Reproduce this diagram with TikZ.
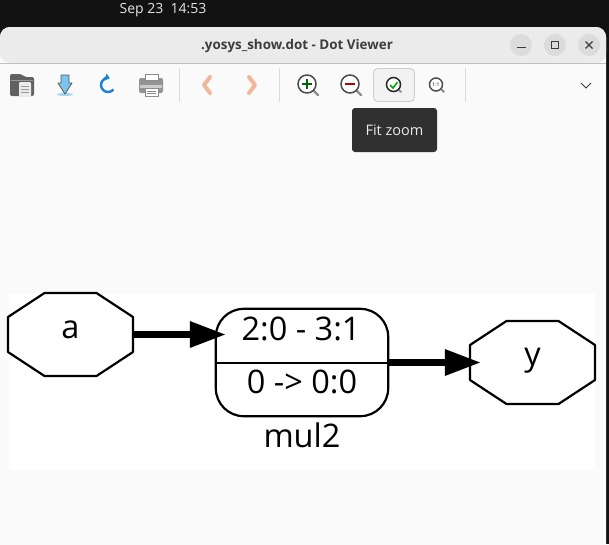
\documentclass[tikz,border=0pt]{standalone}
\usepackage{fontspec}
\setmainfont{Open Sans}
\usetikzlibrary{arrows.meta,positioning,calc}
\definecolor{topbar}{HTML}{121212}
\definecolor{titlebar}{HTML}{EBEBEB}
\definecolor{canvasbg}{HTML}{FAFAFA}
\definecolor{sepgray}{HTML}{DADADA}
\definecolor{titletext}{HTML}{3D3D3D}
\definecolor{winbtn}{HTML}{DCDCDC}
\definecolor{tipbg}{HTML}{303030}
\definecolor{iconblue}{HTML}{1C7FD6}
\definecolor{iconsky}{HTML}{7CC4F0}
\definecolor{iconpeach}{HTML}{F2B79A}
\definecolor{icongray}{HTML}{6A6A6A}
\tikzset{
  port/.style={minimum width=125pt, minimum height=83pt, inner sep=0pt},
  cellbox/.style={minimum width=172pt, minimum height=107pt, inner sep=0pt},
  celltxt/.style={inner sep=0pt, font=\fontsize{32.5}{38}\selectfont},
  outl/.style={draw=black, line width=2.2pt, line join=round},
  wire/.style={-{Triangle[length=36pt,width=25pt]}, line width=6.5pt, draw=black},
  sepl/.style={draw=sepgray, line width=1pt},
  wbtn/.style={circle, fill=winbtn, minimum size=22pt, inner sep=0pt},
  lens/.style={draw=black!70, fill=white, line width=1.5pt},
  handle/.style={draw=black!45, line width=2.4pt, line cap=round},
}
\begin{document}
\begin{tikzpicture}[x=1pt, y=-1pt]
        \useasboundingbox (0,0) rectangle (609,544);
        % desktop and window
        \fill[topbar] (0,0) rectangle (609,544);
        \fill[canvasbg, rounded corners=10pt] (0,27) -- (606,27) -- (606,560) -- (0,560) -- cycle;
        \fill[titlebar, rounded corners=10pt] (0,63) -- (0,27) -- (606,27) -- (606,63) -- cycle;
        \draw[draw=black!25, line width=1pt] (0,63.5) -- (606,63.5);
        \fill[white] (9,293) rectangle (595,470);
        \node[text=white!90!black, font=\fontsize{14}{16}\selectfont] (clock) at (163,10) {Sep 23\ \ 14:53};
        \node[text=titletext, font=\bfseries\fontsize{13.4}{16}\selectfont] (title) at (297,46) {.yosys\_show.dot - Dot Viewer};
        \node[wbtn] (minb) at (521,45) {};
        \node[wbtn] (maxb) at (555,45) {};
        \node[wbtn] (clob) at (589,45) {};
        \draw[titletext, line width=1.2pt] (516.5,47.5) -- (525.5,47.5);
        \draw[titletext, line width=1.2pt] (551.5,41.5) rectangle (558.5,48.5);
        \draw[titletext, line width=1.2pt] (585.5,41.5) -- (592.5,48.5) (585.5,48.5) -- (592.5,41.5);
        % toolbar
        \fill[black!62, rounded corners=2pt] (10,74) -- (22,74) -- (24,77) -- (34,77) -- (34,96) -- (10,96) -- cycle;
        \draw[black!40, line width=.6pt] (11,80) -- (33,80);
        \fill[white!92!black, rounded corners=1pt] (19,82) rectangle (31,97);
        \draw[black!40, line width=.5pt] (21,86) -- (29,86) (21,89) -- (29,89) (21,92) -- (29,92);
        \fill[iconsky!70] (65,94.5) ellipse (8pt and 1.5pt);
        \draw[fill=iconsky, draw=black!65, line width=.8pt, line join=round] (61,75) -- (69,75) -- (69,83) -- (72,83) -- (65,94) -- (58,83) -- (61,83) -- cycle;
        \draw[iconblue, line width=2.4pt, -{Triangle[length=4.5pt,width=7pt]}] (113.4,89.5) arc (-40:-285:7pt);
        \fill[black!42, rounded corners=2pt] (139,78) rectangle (163,93);
        \fill[black!20] (140,85) rectangle (162,88);
        \draw[fill=white, draw=black!45, line width=.9pt] (145,74) rectangle (158,80);
        \draw[fill=white, draw=black!45, line width=.9pt] (145,88) rectangle (158,96);
        \draw[black!45, line width=.5pt] (147,91) -- (156,91) (147,93.5) -- (156,93.5);
        \draw[sepl] (179.5,68) -- (179.5,102);
        \draw[iconpeach, line width=4pt, line cap=round, line join=round] (210,77) -- (204,85) -- (210,93);
        \draw[iconpeach, line width=4pt, line cap=round, line join=round] (249,77) -- (255,85) -- (249,93);
        \draw[sepl] (279.5,68) -- (279.5,102);
        \draw[handle] (313,90) -- (318,95);
        \draw[lens] (307,84) circle (9pt);
        \draw[black!60!green, line width=2pt] (302,84) -- (312,84) (307,79) -- (307,89);
        \draw[handle] (356,90) -- (361,95);
        \draw[lens] (350,84) circle (9pt);
        \draw[red!75!black, line width=2pt] (345,84) -- (355,84);
        \draw[draw=black!20, fill=canvasbg!97!black, rounded corners=4pt, line width=.8pt] (373.5,68.5) rectangle (414.5,101.5);
        \draw[handle, line width=1.8pt] (398,89) -- (401,92);
        \draw[lens, draw=black!85] (393.5,84.5) circle (7pt);
        \draw[green!65!black, line width=1.5pt] (390,85) -- (393,88) -- (397.5,82);
        \draw[handle, line width=1.8pt] (441,89) -- (444,92);
        \draw[lens] (436,84.5) circle (6.5pt);
        \node[font=\fontsize{5}{5}\selectfont, inner sep=0pt] (onetoone) at (436,84.5) {1:1};
        \draw[sepl] (465.5,68) -- (465.5,102);
        \draw[titletext, line width=1pt] (581,83) -- (586,88) -- (591,83);
        \node[fill=tipbg, rounded corners=3pt, text=white!92!black, minimum width=85pt, minimum height=44pt, inner sep=0pt, font=\fontsize{14.5}{17}\selectfont] (tip) at (394.5,130) {Fit zoom};
        % graph
        \node[port] (a) at (70.5,334.5) {};
        \node[port] (y) at (532.5,362.5) {};
        \foreach \nd in {a,y} {
          \draw[outl] ($(\nd)+(-62.5,-17.5)$) -- ($(\nd)+(-26,-41.5)$) -- ($(\nd)+(26,-41.5)$) -- ($(\nd)+(62.5,-17.5)$)
            -- ($(\nd)+(62.5,17.5)$) -- ($(\nd)+(26,41.5)$) -- ($(\nd)+(-26,41.5)$) -- ($(\nd)+(-62.5,17.5)$) -- cycle;
        }
        \node[celltxt] (atxt) at (70.5,330) {a};
        \node[celltxt] (ytxt) at (532.5,361) {y};
        \node[cellbox] (mul) at (302,362.5) {};
        \draw[outl, rounded corners=28pt] (mul.north west) rectangle (mul.south east);
        \draw[draw=black, line width=2pt] (mul.west) -- (mul.east);
        \node[celltxt] (top) at (301,328.5) {2:0 - 3:1};
        \node[celltxt] (bot) at (302,382) {0 -> 0:0};
        \node[celltxt] (lbl) at (302,435.5) {mul2};
        \draw[wire, shorten >=-10pt] (a.east) -- (mul.west |- a.east);
        \draw[wire, shorten >=-11pt] (mul.east) -- (y.west);
      \end{tikzpicture}
\end{document}
